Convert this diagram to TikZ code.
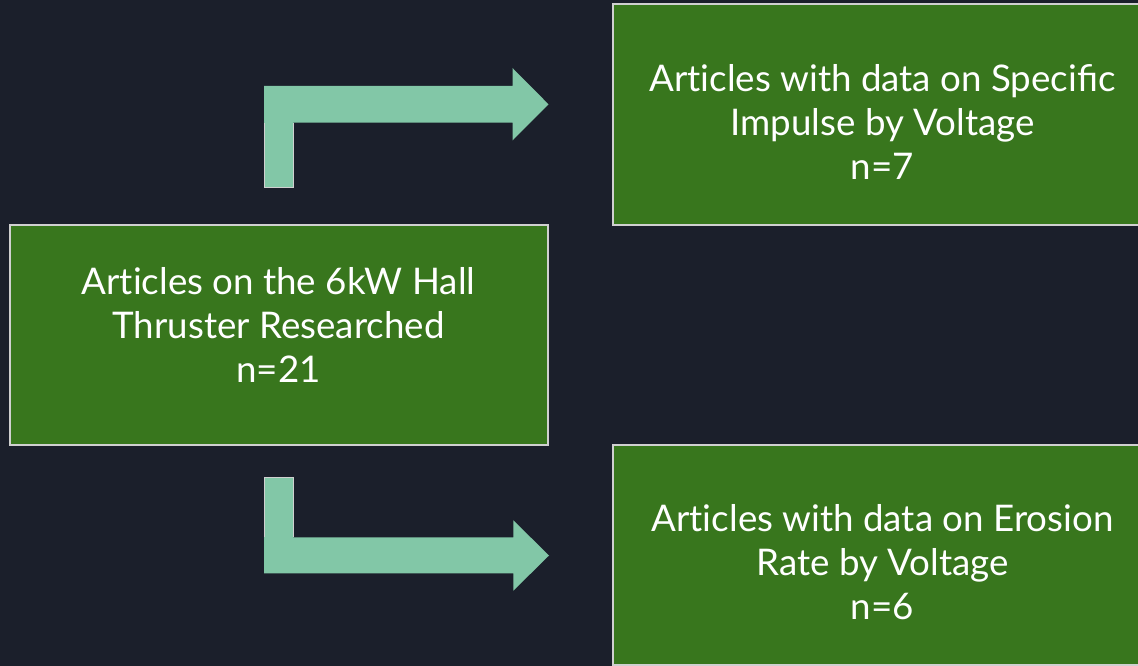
\documentclass[tikz,border=0pt]{standalone}
\usepackage{fontspec}
\setmainfont{Lato}
\newcommand{\artword}{Art\kern0pt\relax icles}
\definecolor{bg}{RGB}{27,31,43}
\definecolor{boxgreen}{RGB}{56,118,29}
\definecolor{boxedge}{RGB}{208,208,208}
\definecolor{arrowfill}{RGB}{130,199,167}
\tikzset{
  greenbox/.style={fill=boxgreen, draw=boxedge, line width=1.5pt},
  boxtext/.style={text=white, align=center, font=\fontsize{36.7}{44}\selectfont, inner sep=0pt},
  bentarrow/.style={fill=arrowfill, draw=none},
  stemedge/.style={draw=boxedge, line width=1pt}
}
\begin{document}
\begin{tikzpicture}[x=1pt,y=-1pt]
\fill[bg] (0,0) rectangle (1138,666);
\useasboundingbox (0,0) rectangle (1138,666);
% boxes
\draw[greenbox] (10,225) rectangle (548,445);
\coordinate (boxA) at (279,335);
\draw[greenbox] (613,4) rectangle (1151,225);
\coordinate (boxB) at (882,114);
\draw[greenbox] (613,445) rectangle (1151,665);
\coordinate (boxC) at (882,555);
% texts
\node[boxtext] (textA) at (278.5,329.5) {\strut \artword{} on the 6kW Hall\\\strut Thruster Researched\\\strut n=21};
\node[boxtext] (textB) at (882.5,126.9) {\strut \artword{} with data on Specific\\\strut Impulse by Voltage\\\strut n=7};
\node[boxtext] (textC) at (882.5,566.2) {\strut \artword{} with data on Erosion\\\strut Rate by Voltage\\\strut n=6};
% upper bent arrow
\coordinate (u1) at (264,187.5);
\coordinate (utip) at (548.5,104.3);
\fill[bentarrow] (u1) -- (264,86) -- (512.5,86) -- (512.5,68) -- (utip) -- (512.5,140.5) -- (512.5,122.7) -- (293.3,122.7) -- (293.3,187.5) -- cycle;
\draw[stemedge] (264,122.7) -- (u1) -- (293.3,187.5) -- (293.3,122.7);
% lower bent arrow
\coordinate (l1) at (264,477.5);
\coordinate (ltip) at (549,555.5);
\fill[bentarrow] (l1) -- (264,573.3) -- (513.3,573.3) -- (513.3,590.7) -- (ltip) -- (513.3,520.3) -- (513.3,537.3) -- (293.3,537.3) -- (293.3,477.5) -- cycle;
\draw[stemedge] (264,537.3) -- (l1) -- (293.3,477.5) -- (293.3,537.3);
\end{tikzpicture}
\end{document}
